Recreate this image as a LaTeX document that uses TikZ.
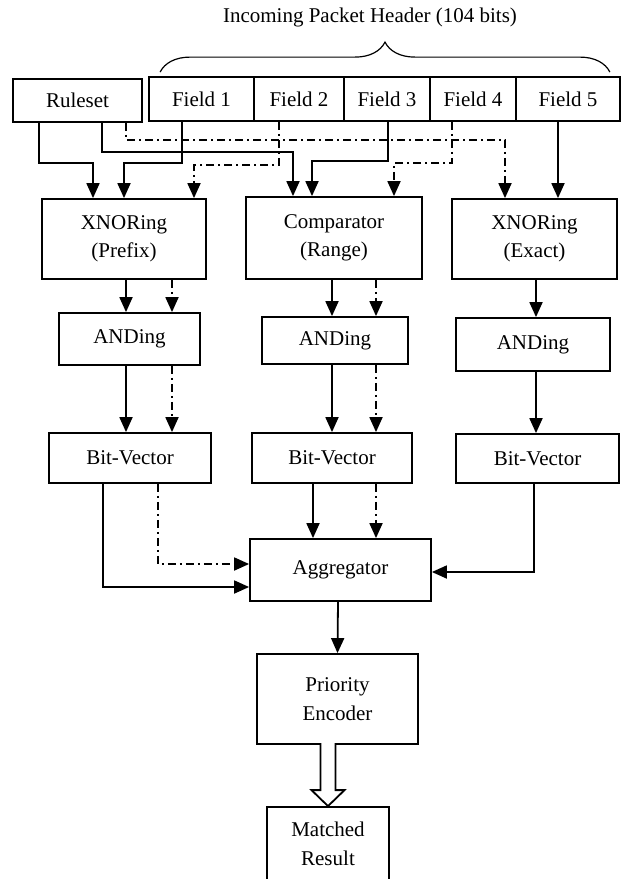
\documentclass[tikz,border=0pt]{standalone}
\usepackage{fontspec}
\setmainfont{Liberation Serif}
\usetikzlibrary{arrows.meta, calc, decorations.pathreplacing}

\begin{document}
\begin{tikzpicture}[x=0.5pt, y=-0.5pt, line width=0.9pt, >={Triangle[length=7.5pt, width=6.5pt]},
  every node/.style={font=\fontsize{10.5}{14.2}\selectfont},
  blk/.style={draw, align=center, inner sep=0pt},
  dd/.style={dash pattern=on 4pt off 2pt on 1pt off 2pt}]
  \useasboundingbox (0,0) rectangle (622,879);
  \node (title) at (370,17) {Incoming Packet Header (104 bits)};
  \node[blk, minimum width=64.5pt, minimum height=21.5pt] (ruleset) at (77.5,100.5) {Ruleset};
  \node[blk, minimum width=52.5pt, minimum height=22pt] (f1) at (201.5,99) {Field 1};
  \node[blk, minimum width=45pt, minimum height=22pt] (f2) at (299,99) {Field 2};
  \node[blk, minimum width=43pt, minimum height=22pt] (f3) at (387,99) {Field 3};
  \node[blk, minimum width=43pt, minimum height=22pt] (f4) at (473,99) {Field 4};
  \node[blk, minimum width=52pt, minimum height=22pt] (f5) at (568,99) {Field 5};
  \draw[decorate, decoration={brace, amplitude=15pt}, line width=0.6pt] ($(f1.north west)+(12,-4)$) -- ($(f5.north east)+(-11,-4)$);

  \node[blk, minimum width=82pt, minimum height=40pt] (xnorp) at (124,239) {XNORing\\(Prefix)};
  \node[blk, minimum width=88pt, minimum height=41pt] (comp) at (334,238) {Comparator\\(Range)};
  \node[blk, minimum width=82.5pt, minimum height=40pt] (xnore) at (534.5,239) {XNORing\\(Exact)};
  \node[blk, minimum width=70.5pt, minimum height=26pt] (and1) at (129.5,339) {ANDing};
  \node[blk, minimum width=73pt, minimum height=23.5pt] (and2) at (335,340.5) {ANDing};
  \node[blk, minimum width=77pt, minimum height=26.5pt] (and3) at (533,344.5) {ANDing};
  \node[blk, minimum width=81pt, minimum height=25pt] (bv1) at (130,458) {Bit-Vector};
  \node[blk, minimum width=80pt, minimum height=25pt] (bv2) at (332,458) {Bit-Vector};
  \node[blk, minimum width=81.5pt, minimum height=24.5pt] (bv3) at (537.5,458.5) {Bit-Vector};
  \node[blk, minimum width=90.5pt, minimum height=31pt] (agg) at (340.5,570) {Aggregator};
  \node[blk, minimum width=80.5pt, minimum height=45pt] (prio) at (337.5,699) {Priority\\Encoder};
  \node[blk, minimum width=61pt, minimum height=37pt] (match) at (328,844) {Matched\\Result};

  \draw[->] ($(ruleset.south)+(-38.5,0)$) -- ++(0,40) -| ($(xnorp.north)+(-31,0)$);
  \draw[->] ($(f1.south)+(-19.5,0)$) -- ++(0,41) -| (xnorp.north);
  \draw[->] ($(ruleset.south)+(24.5,0)$) -- ++(0,29) -| ($(comp.north)+(-41,0)$);
  \draw[->, dd] ($(ruleset.south)+(48.5,0)$) -- ++(0,17) -| ($(xnore.north)+(-29.5,0)$);
  \draw[->, dd] ($(f2.south)+(-20,0)$) -- ++(0,43) -| ($(xnorp.north)+(70,0)$);
  \draw[->] ($(f3.south)+(1,0)$) -- ++(0,39) -| ($(comp.north)+(-22,0)$);
  \draw[->, dd] ($(f4.south)+(-21,0)$) -- ++(0,41) -| ($(comp.north)+(60,0)$);
  \draw[->] ($(f5.south)+(-10,0)$) -- ($(xnore.north)+(23.5,0)$);

  \draw[->] ($(xnorp.south)+(2,0)$) -- ($(and1.north)+(-3.5,0)$);
  \draw[->, dd] ($(xnorp.south)+(48,0)$) -- ($(and1.north)+(42.5,0)$);
  \draw[->] ($(comp.south)+(-2,0)$) -- ($(and2.north)+(-3,0)$);
  \draw[->, dd] ($(comp.south)+(42,0)$) -- ($(and2.north)+(41,0)$);
  \draw[->] ($(xnore.south)+(1.5,0)$) -- ($(and3.north)+(3,0)$);

  \draw[->] ($(and1.south)+(-3.5,0)$) -- ($(bv1.north)+(-4,0)$);
  \draw[->, dd] ($(and1.south)+(42.5,0)$) -- ($(bv1.north)+(42,0)$);
  \draw[->] ($(and2.south)+(-3,0)$) -- (bv2.north);
  \draw[->, dd] ($(and2.south)+(41,0)$) -- ($(bv2.north)+(44,0)$);
  \draw[->] ($(and3.south)+(3,0)$) -- ($(bv3.north)+(-1.5,0)$);

  \draw[->] ($(bv1.south)+(-27,0)$) |- ($(agg.west)+(0,17)$);
  \draw[->, dd] ($(bv1.south)+(28,0)$) |- ($(agg.west)+(0,-6)$);
  \draw[->] ($(bv2.south)+(-19,0)$) -- ($(agg.north)+(-27.5,0)$);
  \draw[->, dd] ($(bv2.south)+(44,0)$) -- ($(agg.north)+(35.5,0)$);
  \draw[->] ($(bv3.south)+(-3.5,0)$) |- ($(agg.east)+(0,2)$);

  \draw[->] ($(agg.south)+(-2.5,0)$) -- (prio.north);
  \draw[fill=white] ($(match.north)+(-7.5,-63)$) -- ($(match.north)+(-7.5,-16)$) -- ($(match.north)+(-16.5,-16)$) -- (match.north) -- ($(match.north)+(16.5,-16)$) -- ($(match.north)+(7.5,-16)$) -- ($(match.north)+(7.5,-63)$);
\end{tikzpicture}
\end{document}
